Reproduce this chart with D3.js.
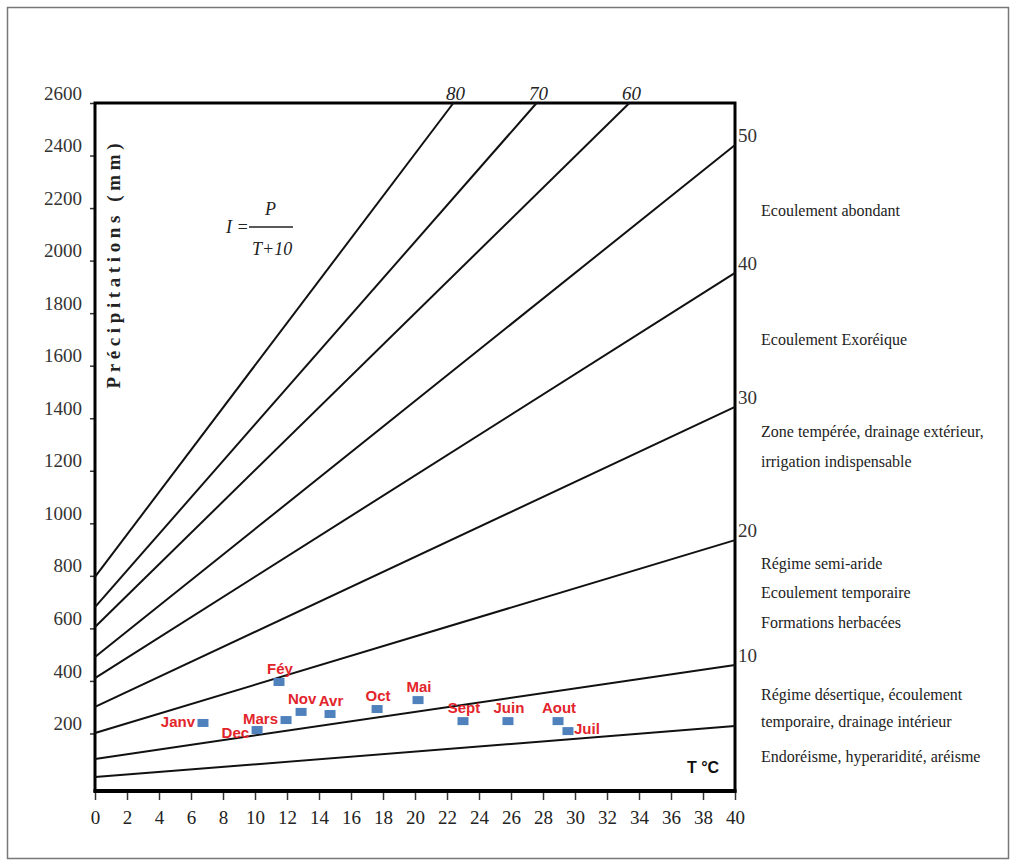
<!DOCTYPE html>
<html>
<head>
<meta charset="utf-8">
<script src="https://cdn.jsdelivr.net/npm/d3@7"></script>
<style>
  body { margin: 0; background: #fff; }
  svg { display: block; }
</style>
</head>
<body>
<div id="canvas"></div>
<script>
// aridity index lines I = P / (T + 10) (start at T=0, end point)
var indexValues = [5, 10, 20, 30, 40, 50, 60, 70, 80]
var lineStartP = [34, 103, 202, 301, 411, 491, 605, 681, 796]
var lineEndT = [40, 40, 40, 40, 40, 40, 33.4, 27.6, 22.4]
var lineEndP = [228, 461, 936, 1443, 1953, 2440, 2600, 2600, 2600]

// monthly points
var months = ["Janv", "Féy", "Mars", "Avr", "Mai", "Juin", "Juil", "Aout", "Sept", "Oct", "Nov", "Dec"]
var monthTemp = [6.75, 11.5, 11.94, 14.69, 20.19, 25.81, 29.56, 28.94, 23.0, 17.63, 12.88, 10.13]
var monthPrecip = [240, 396, 251, 274, 327, 247, 209, 247, 247, 293, 282, 213]

var xTicks = [0, 2, 4, 6, 8, 10, 12, 14, 16, 18, 20, 22, 24, 26, 28, 30, 32, 34, 36, 38, 40]
var yTicks = [200, 400, 600, 800, 1000, 1200, 1400, 1600, 1800, 2000, 2200, 2400, 2600]

var zoneText = [
    "Ecoulement abondant",
    "Ecoulement Exoréique",
    "Zone tempérée, drainage extérieur,",
    "irrigation indispensable",
    "Régime semi-aride",
    "Ecoulement temporaire",
    "Formations herbacées",
    "Régime désertique, écoulement",
    "temporaire, drainage intérieur",
    "Endoréisme, hyperaridité, aréisme"
]
var zoneBaseline = [216, 345, 437, 467, 569, 598, 628, 700, 727, 762]

var width = 1016
var height = 866
var plotLeft = 95, plotRight = 735, plotTop = 103, plotBottom = 786
var axisY = 791

var serif = "'Liberation Serif', 'Times New Roman', serif"
var sans = "'Liberation Sans', Arial, sans-serif"

var svg = d3.select("#canvas")
    .append("svg")
    .attr("width", width)
    .attr("height", height)

// outer border
svg.append("rect")
    .attr("x", 7.5).attr("y", 7.5)
    .attr("width", 1001).attr("height", 851)
    .attr("fill", "none")
    .attr("stroke", "#777")
    .attr("stroke-width", 1.5)

var xScale = d3.scaleLinear().domain([0, 40]).range([plotLeft, plotRight])
var yScale = d3.scaleLinear().domain([0, 2600]).range([plotBottom, plotTop])

// x axis
var xAxis = svg.append("g")
    .attr("transform", `translate(0,${axisY})`)
    .call(d3.axisBottom(xScale)
        .tickValues(xTicks)
        .tickSize(9)
        .tickPadding(11)
        .tickSizeOuter(0))
xAxis.select(".domain").remove()
xAxis.selectAll("line").attr("stroke", "#333").attr("stroke-width", 1.5)
xAxis.selectAll("text")
    .attr("fill", "#222")
    .style("font-family", serif)
    .style("font-size", "19px")

// y axis
var yAxis = svg.append("g")
    .attr("transform", `translate(${plotLeft},0)`)
    .call(d3.axisLeft(yScale)
        .tickValues(yTicks)
        .tickFormat(d3.format("d"))
        .tickSize(5)
        .tickPadding(8)
        .tickSizeOuter(0))
yAxis.select(".domain").remove()
yAxis.selectAll("line").attr("stroke", "#333").attr("stroke-width", 1.5)
yAxis.selectAll("text")
    .attr("y", -10)
    .attr("fill", "#333")
    .style("font-family", serif)
    .style("font-size", "19px")

// frame
svg.append("rect")
    .attr("x", plotLeft).attr("y", plotTop)
    .attr("width", plotRight - plotLeft).attr("height", axisY - plotTop)
    .attr("fill", "none")
    .attr("stroke", "#000")
    .attr("stroke-width", 3)
svg.append("line")
    .attr("x1", plotLeft - 1.5).attr("x2", plotRight + 1.5)
    .attr("y1", axisY).attr("y2", axisY)
    .attr("stroke", "#000")
    .attr("stroke-width", 4)

// index lines
var lineGen = d3.line()
    .x(function (d) { return xScale(d[0]) })
    .y(function (d) { return yScale(d[1]) })

var lines = indexValues.map(function (v, i) {
    return { index: v, pts: [[0, lineStartP[i]], [lineEndT[i], lineEndP[i]]] }
})

svg.selectAll(".iso")
    .data(lines)
    .enter()
    .append("path")
    .attr("class", "iso")
    .attr("d", function (d) { return lineGen(d.pts) })
    .attr("fill", "none")
    .attr("stroke", "#111")
    .attr("stroke-width", 2)

// labels at the top for the steep lines
svg.selectAll(".topLabel")
    .data(lines.filter(function (d) { return d.pts[1][1] >= 2600 }))
    .enter()
    .append("text")
    .attr("class", "topLabel")
    .attr("x", function (d) { return xScale(d.pts[1][0]) + 2 })
    .attr("y", plotTop - 3)
    .attr("text-anchor", "middle")
    .style("font-family", serif)
    .style("font-style", "italic")
    .style("font-size", "19px")
    .attr("fill", "#222")
    .text(function (d) { return d.index })

// labels on the right side
svg.selectAll(".rightLabel")
    .data(lines.filter(function (d) { return d.pts[1][1] < 2600 && d.index >= 10 }))
    .enter()
    .append("text")
    .attr("class", "rightLabel")
    .attr("x", plotRight + 3)
    .attr("y", function (d) { return yScale(d.pts[1][1]) - 3 })
    .style("font-family", serif)
    .style("font-size", "19px")
    .attr("fill", "#333")
    .text(function (d) { return d.index })

// zone descriptions
svg.selectAll(".zone")
    .data(zoneText)
    .enter()
    .append("text")
    .attr("class", "zone")
    .attr("x", 761)
    .attr("y", function (d, i) { return zoneBaseline[i] })
    .style("font-family", serif)
    .style("font-size", "16px")
    .attr("fill", "#222")
    .text(function (d) { return d })

// y axis title
svg.append("text")
    .attr("transform", "translate(120,266) rotate(-90)")
    .attr("text-anchor", "middle")
    .attr("textLength", 245)
    .attr("lengthAdjust", "spacing")
    .style("font-family", serif)
    .style("font-weight", "bold")
    .style("font-size", "19px")
    .attr("fill", "#222")
    .text("Précipitations (mm)")

// formula
var formula = svg.append("g")
    .style("font-family", serif)
    .style("font-style", "italic")
    .style("font-size", "18px")
    .attr("fill", "#222")
formula.append("text").attr("x", 226).attr("y", 233).text("I =")
formula.append("text").attr("x", 265).attr("y", 215).text("P")
formula.append("text").attr("x", 252).attr("y", 255).text("T+10")
formula.append("line")
    .attr("x1", 249).attr("x2", 293)
    .attr("y1", 227).attr("y2", 227)
    .attr("stroke", "#222")
    .attr("stroke-width", 1.5)

// T °C
svg.append("text")
    .attr("x", 687).attr("y", 773)
    .style("font-family", sans)
    .style("font-weight", "bold")
    .style("font-size", "16px")
    .attr("fill", "#111")
    .text("T °C")

// monthly points
var points = months.map(function (m, i) {
    return { month: m, t: monthTemp[i], p: monthPrecip[i] }
})
var labelSide = { "Janv": "left", "Dec": "lowleft", "Mars": "left", "Juil": "right" }

svg.selectAll(".pt")
    .data(points)
    .enter()
    .append("rect")
    .attr("class", "pt")
    .attr("x", function (d) { return xScale(d.t) - 5.5 })
    .attr("y", function (d) { return yScale(d.p) - 4 })
    .attr("width", 11)
    .attr("height", 8)
    .attr("fill", "#4f81bd")

svg.selectAll(".ptLabel")
    .data(points)
    .enter()
    .append("text")
    .attr("class", "ptLabel")
    .attr("x", function (d) {
        var side = labelSide[d.month]
        if (side == "left" || side == "lowleft") return xScale(d.t) - 8
        if (side == "right") return xScale(d.t) + 6
        return xScale(d.t) + 1
    })
    .attr("y", function (d) {
        var side = labelSide[d.month]
        if (side == "left") return yScale(d.p) + 4
        if (side == "lowleft") return yScale(d.p) + 8
        if (side == "right") return yScale(d.p) + 3
        return yScale(d.p) - 8
    })
    .attr("text-anchor", function (d) {
        var side = labelSide[d.month]
        if (side == "left" || side == "lowleft") return "end"
        if (side == "right") return "start"
        return "middle"
    })
    .style("font-family", sans)
    .style("font-weight", "bold")
    .style("font-size", "15px")
    .attr("fill", "#e2242b")
    .text(function (d) { return d.month })
</script>
</body>
</html>
